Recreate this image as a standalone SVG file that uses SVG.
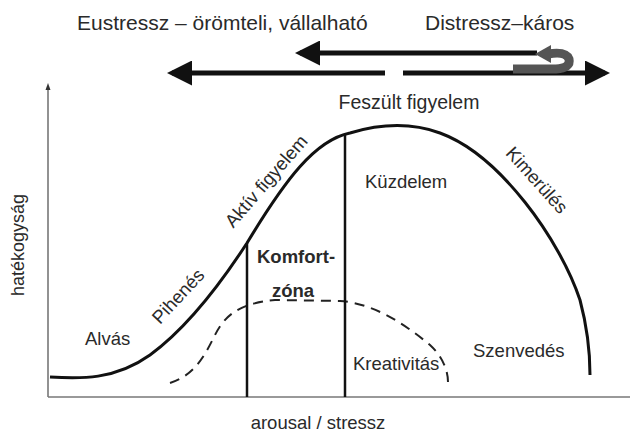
<svg xmlns="http://www.w3.org/2000/svg" width="630" height="439" viewBox="0 0 630 439">
<style>
text{font-family:"Liberation Sans",Arial,sans-serif;fill:#2a2a2a;font-size:18.5px}
.title{font-size:21px}
.b{font-weight:bold}
.axis{stroke:#777;stroke-width:1.6;fill:none}
.curve{stroke:#111;stroke-width:3;fill:none}
.dash{stroke:#222;stroke-width:2;fill:none;stroke-dasharray:10 7}
.vline{stroke:#111;stroke-width:2.5}
.arr{stroke:#111;stroke-width:5}
</style>
<defs>
<marker id="ah" markerWidth="5" markerHeight="5" refX="4" refY="2.5" orient="auto" markerUnits="strokeWidth">
<path d="M0,0 L5,2.5 L0,5 z" fill="#111"/>
</marker>
</defs>
<rect width="630" height="439" fill="#fff"/>
<g id="axes">
<line class="axis" x1="48" y1="397" x2="48" y2="88"/>
<path d="M45.5,90 L48,83 L50.5,90 z" fill="#333"/>
<line class="axis" x1="48" y1="397" x2="630" y2="397"/>
</g>
<g id="top-arrows">
<line class="arr" x1="537" y1="53" x2="300" y2="53" marker-end="url(#ah)"/>
<line class="arr" x1="385" y1="73" x2="172" y2="73" marker-end="url(#ah)"/>
<line class="arr" x1="403" y1="73" x2="605" y2="73" marker-end="url(#ah)"/>
<path d="M513,69 L556,69 Q571,68 569,59 Q566,51 548,54" stroke="#555" stroke-width="9" fill="none"/>
<path d="M551,45 L535,54 L551,63 z" fill="#555"/>
</g>
<g id="labels-top">
<text class="title" x="77" y="30">Eustressz – örömteli, vállalható</text>
<text class="title" x="425" y="30">Distressz–káros</text>
</g>
<g id="curves">
<path class="curve" d="M50,377 C80,379 115,380 150,355 C180,333 210,300 247,243 C285,180 315,140 350,133 C380,124 410,122 440,133 C500,155 560,240 580,300 C588,330 590,355 590,375"/>
<path class="dash" d="M170,383 C195,375 205,355 215,335 C225,315 240,303 275,300 L340,301 C370,303 400,320 430,345 C442,356 448,370 448,382"/>
<line class="vline" x1="247" y1="243" x2="247" y2="397"/>
<line class="vline" x1="345" y1="135" x2="345" y2="397"/>
</g>
<g id="node-labels">
<text x="409" y="109" text-anchor="middle" style="font-size:19.5px">Feszült figyelem</text>
<text x="24" y="245" text-anchor="middle" transform="rotate(-90 24 245)" style="font-size:18px">hatékogyság</text>
<text x="85" y="345">Alvás</text>
<text x="178" y="296" text-anchor="middle" dominant-baseline="central" transform="rotate(-47 178 296)">Pihenés</text>
<text x="266" y="181" text-anchor="middle" dominant-baseline="central" transform="rotate(-49 266 181)">Aktív figyelem</text>
<text class="b" x="257" y="263">Komfort-</text>
<text class="b" x="272" y="297">zóna</text>
<text x="365" y="188">Küzdelem</text>
<text x="537" y="180" text-anchor="middle" dominant-baseline="central" transform="rotate(48 537 180)">Kimerülés</text>
<text x="353" y="370">Kreativitás</text>
<text x="473" y="357">Szenvedés</text>
<text x="318" y="429" text-anchor="middle">arousal / stressz</text>
</g>
</svg>
